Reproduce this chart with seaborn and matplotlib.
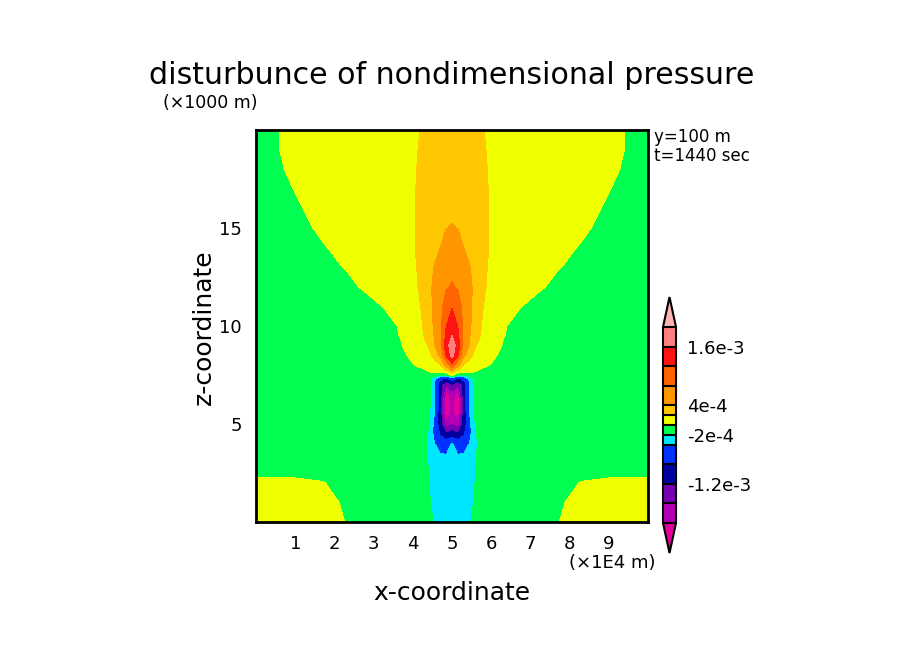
import numpy as np
import seaborn as sns
import matplotlib
matplotlib.use("Agg")
import matplotlib.pyplot as plt
from matplotlib.colors import ListedColormap, BoundaryNorm

sns.set_style("white")
plt.rcParams['font.family'] = ['DejaVu Sans']
plt.rcParams['text.color'] = 'black'
plt.rcParams['xtick.color'] = 'black'
plt.rcParams['ytick.color'] = 'black'

# distance from the centre line x = 5 (x1E4 m), the field is mirrored about it
dx = [0, 0.15, 0.3, 0.45, 0.6, 0.8, 1.0, 1.3, 1.7, 2.2, 2.7, 3.3, 4.0, 4.5, 5.0]
# height (x1000 m)
z = [0, 1, 2, 2.5, 3, 3.5, 4, 4.5, 5, 5.5, 6, 6.5, 7, 7.3, 7.5, 7.7,
     8, 8.5, 9, 9.5, 10, 11, 12, 13, 14, 15, 16, 17, 18, 19, 20]
# pressure disturbance, units of 1e-4
p_half = [
    [-2.7, -2.7, -2.6, -2.1, -1.6, -1.3, -1.1, -1, -1, -0.8, -0.05, 0.8, 1, 1, 1],
    [-2.8, -2.8, -2.7, -2.4, -1.8, -1.3, -1.1, -1, -1, -1, -0.3, 0.7, 0.9, 0.9, 0.9],
    [-2.9, -2.9, -2.8, -2.5, -1.95, -1.35, -1.1, -1, -1, -1, -0.8, 0.1, 0.5, 0.5, 0.5],
    [-2.95, -3.0, -2.9, -2.6, -2.0, -1.4, -1.1, -1, -1, -1, -1, -0.6, -0.5, -0.5, -0.5],
    [-3.0, -3.2, -3.1, -2.8, -2.05, -1.4, -1.1, -1, -1, -1, -1, -1, -1, -1, -1],
    [-3.2, -4.1, -4.0, -3.2, -2.1, -1.4, -1.1, -1, -1, -1, -1, -1, -1, -1, -1],
    [-3.8, -5.8, -5.5, -3.9, -2.2, -1.4, -1.1, -1, -1, -1, -1, -1, -1, -1, -1],
    [-10, -11.5, -8.5, -4.6, -2.1, -1.3, -1.1, -1, -1, -1, -1, -1, -1, -1, -1],
    [-16.5, -18, -10.5, -4.6, -1.95, -1.25, -1.1, -1, -1, -1, -1, -1, -1, -1, -1],
    [-19, -22.5, -10.5, -4.0, -1.5, -1.2, -1.1, -1, -1, -1, -1, -1, -1, -1, -1],
    [-19, -23, -10.5, -3.7, -1.3, -1.1, -1, -1, -1, -1, -1, -1, -1, -1, -1],
    [-18, -22, -10.5, -3.6, -1.2, -1.1, -1, -1, -1, -1, -1, -1, -1, -1, -1],
    [-12.5, -15.5, -10.5, -3.7, -1.3, -1.1, -1, -1, -1, -1, -1, -1, -1, -1, -1],
    [-6, -9, -7, -3.5, -1.3, -1.1, -1, -1, -1, -1, -1, -1, -1, -1, -1],
    [0.8, -1.5, -1.6, -1.0, -0.5, -0.8, -1, -1, -1, -1, -1, -1, -1, -1, -1],
    [2.7, 1.5, 0.9, 0.5, 0.1, -0.5, -0.8, -1, -1, -1, -1, -1, -1, -1, -1],
    [10.7, 5.0, 2.0, 1.3, 0.9, 0.4, -0.1, -0.8, -1, -1, -1, -1, -1, -1, -1],
    [17.3, 12.5, 4.5, 2.5, 1.6, 1.1, 0.5, -0.5, -0.9, -1, -1, -1, -1, -1, -1],
    [18.5, 14.0, 6.5, 3.7, 2.1, 1.4, 0.9, -0.1, -0.8, -1, -1, -1, -1, -1, -1],
    [16.0, 12.9, 7.0, 4.1, 2.6, 1.6, 1.0, 0.1, -0.7, -1, -1, -1, -1, -1, -1],
    [14.0, 11.9, 7.2, 4.3, 2.9, 1.7, 1.1, 0.2, -0.6, -1, -1, -1, -1, -1, -1],
    [11.8, 10.5, 6.0, 4.6, 3.0, 2.0, 1.4, 0.8, 0.15, -0.7, -1, -1, -1, -1, -1],
    [8.4, 7.5, 6.5, 4.6, 3.2, 2.2, 1.6, 1.1, 0.8, 0.3, -0.5, -0.9, -1, -1, -1],
    [7.0, 6.6, 5.4, 4.1, 3.1, 2.3, 1.7, 1.2, 0.9, 0.6, 0.1, -0.5, -0.9, -1, -1],
    [5.5, 5.0, 4.0, 3.4, 3.0, 2.45, 1.8, 1.2, 1.0, 0.8, 0.4, -0.1, -0.7, -0.9, -1],
    [4.1, 3.95, 3.7, 3.35, 3.0, 2.45, 1.8, 1.2, 1.0, 0.9, 0.6, 0.25, -0.45, -0.8, -1],
    [3.7, 3.65, 3.5, 3.25, 2.95, 2.45, 1.8, 1.2, 1.0, 0.9, 0.75, 0.5, -0.2, -0.6, -0.8],
    [3.5, 3.45, 3.3, 3.1, 2.8, 2.4, 1.75, 1.2, 1.0, 0.9, 0.8, 0.55, 0.05, -0.4, -0.7],
    [3.4, 3.35, 3.2, 3.0, 2.7, 2.3, 1.7, 1.2, 1.0, 0.9, 0.8, 0.6, 0.28, -0.22, -0.6],
    [3.3, 3.25, 3.1, 2.9, 2.6, 2.2, 1.6, 1.2, 1.0, 0.9, 0.8, 0.7, 0.4, -0.1, -0.5],
    [3.2, 3.15, 3.0, 2.8, 2.5, 2.05, 1.5, 1.2, 1.0, 0.9, 0.8, 0.7, 0.4, -0.1, -0.5],
]

levels = [-20, -16, -12, -8, -4, -2, 0, 2, 4, 8, 12, 16, 20]
band_colors = ["#b400b4", "#7800b4", "#0000a0", "#0032ff", "#00e6ff", "#00ff50",
               "#f0ff00", "#ffc800", "#ff9600", "#ff6400", "#ff1414", "#ff8080"]
under_color = "#e6009b"
over_color = "#ffb4b4"
cbar_ticks = [16, 4, -2, -12]
cbar_labels = ["1.6e-3", "4e-4", "-2e-4", "-1.2e-3"]

dx_arr = np.array(dx)
x_full = np.concatenate([5 - dx_arr[::-1][:-1], 5 + dx_arr])
half = np.array(p_half)
P = np.hstack([half[:, ::-1][:, :-1], half]) * 1e-4
lev = np.array(levels) * 1e-4

cmap = ListedColormap(band_colors)
cmap.set_under(under_color)
cmap.set_over(over_color)
norm = BoundaryNorm(lev, cmap.N)

fig = plt.figure(figsize=(9.04, 6.54), dpi=100)
ax = fig.add_axes([0.2832, 0.2018, 0.4336, 0.5994])
cf = ax.contourf(x_full, z, P, levels=lev, cmap=cmap, norm=norm, extend="both")

ax.set_xlim(0, 10)
ax.set_ylim(0, 20)
ax.set_xticks(range(1, 10))
ax.set_xticks(np.arange(0.5, 10, 0.5), minor=True)
ax.set_yticks([5, 10, 15])
ax.set_yticks(range(1, 20), minor=True)
ax.tick_params(which="both", direction="in", top=True, right=True,
               width=1.5, colors="black", labelsize=13)
ax.tick_params(which="major", length=7)
ax.tick_params(which="minor", length=4)
ax.tick_params(axis="x", pad=9)
ax.tick_params(axis="y", pad=10)
for s in ax.spines.values():
    s.set_linewidth(2)
    s.set_color("black")

cax = fig.add_axes([0.7334, 0.1544, 0.0144, 0.3914])
cb = fig.colorbar(cf, cax=cax, extend="both", extendfrac=0.153,
                  spacing="proportional", drawedges=True,
                  ticks=np.array(cbar_ticks) * 1e-4)
cb.set_ticklabels(cbar_labels)
cb.ax.minorticks_off()
cb.ax.tick_params(which="both", length=0, labelsize=13, pad=8)
cb.outline.set_linewidth(1.5)
cb.outline.set_edgecolor("black")
cb.dividers.set_linewidth(1.5)
cb.dividers.set_color("black")

fig.text(0.5, 0.885, "disturbunce of nondimensional pressure",
         ha="center", va="center", fontsize=21.6)
fig.text(0.180, 0.842, "(×1000 m)", ha="left", va="center", fontsize=12.5)
fig.text(0.724, 0.790, "y=100 m", ha="left", va="center", fontsize=12)
fig.text(0.724, 0.761, "t=1440 sec", ha="left", va="center", fontsize=12)
fig.text(0.725, 0.139, "(×1E4 m)", ha="right", va="center", fontsize=13)
fig.text(0.5, 0.094, "x-coordinate", ha="center", va="center", fontsize=18)
fig.text(0.226, 0.5, "z-coordinate", ha="center", va="center",
         rotation=90, fontsize=18)

fig.savefig("out.png", dpi=100, facecolor="white")
